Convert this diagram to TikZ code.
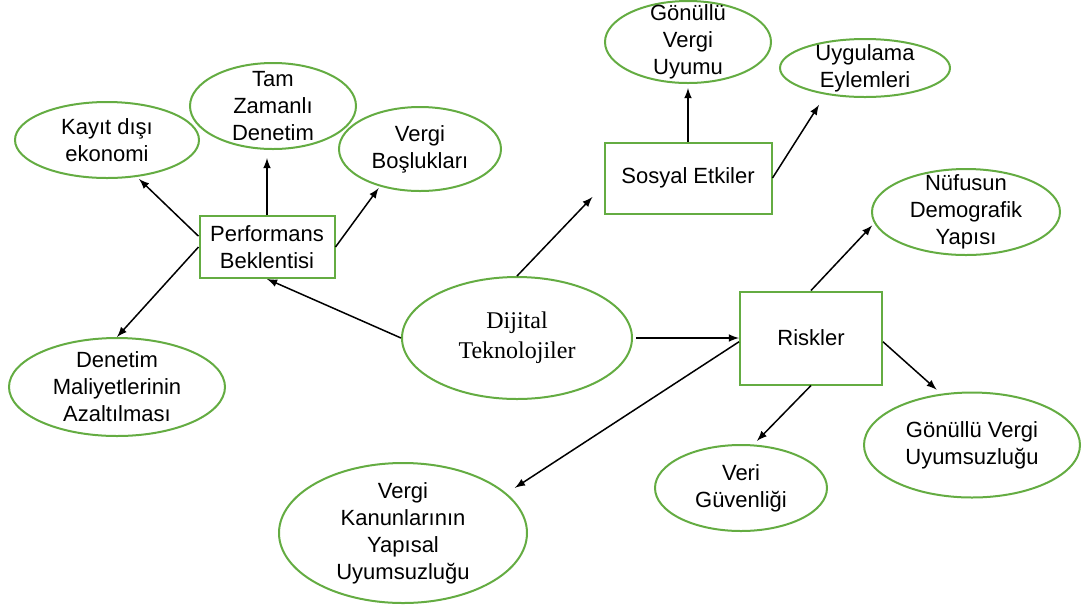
\documentclass[tikz,border=0pt]{standalone}
\usepackage{fontspec}
\setmainfont{Liberation Sans}
\newfontfamily\timesfont{Liberation Serif}
\usetikzlibrary{shapes.geometric}
\definecolor{ovalgreen}{RGB}{100,172,66}

\begin{document}
\begin{tikzpicture}[x=0.5pt,y=-0.5pt]
		\tikzstyle{oval}=[ellipse,draw=ovalgreen,line width=1pt,inner sep=0pt]
		\tikzstyle{box}=[rectangle,draw=ovalgreen,line width=1pt,inner sep=0pt,align=center,font=\fontsize{11}{13.5}\selectfont]
		\tikzstyle{txt}=[align=center,inner sep=0pt,font=\fontsize{11}{13.5}\selectfont]
		\tikzstyle{arrow}=[-latex,line width=0.75pt]
		\useasboundingbox (0,0) rectangle (1083,607);
		% center
		\node[oval,minimum width=115pt,minimum height=61pt,label={[txt,font=\timesfont\fontsize{12}{15}\selectfont]center:Dijital\\Teknolojiler}] (d_0) at (517,338) {};
		% performans
		\node[box,minimum width=67.5pt,minimum height=31pt] (p_0) at (267,247) {Performans\\Beklentisi};
		\node[oval,minimum width=92pt,minimum height=38pt,label={[txt]center:Kayıt dışı\\ekonomi}] (p_1) at (107,140) {};
		\node[oval,minimum width=83pt,minimum height=43pt,label={[txt]center:Tam\\Zamanlı\\Denetim}] (p_2) at (273,106) {};
		\node[oval,minimum width=81pt,minimum height=42pt,label={[txt]center:Vergi\\Boşlukları}] (p_3) at (420,149) {};
		\node[oval,minimum width=108pt,minimum height=49pt,label={[txt]center:Denetim\\Maliyetlerinin\\Azaltılması}] (p_4) at (117,387) {};
		% sosyal
		\node[box,minimum width=83.5pt,minimum height=35.5pt] (s_0) at (688,178) {Sosyal Etkiler};
		\node[oval,minimum width=83pt,minimum height=41pt,label={[txt]center:Gönüllü\\Vergi\\Uyumu}] (s_1) at (688,42) {};
		\node[oval,minimum width=85pt,minimum height=29pt,label={[txt]center:Uygulama\\Eylemleri}] (s_2) at (865,68) {};
		% riskler
		\node[box,minimum width=71pt,minimum height=46.5pt] (r_0) at (811,338) {Riskler};
		\node[oval,minimum width=94pt,minimum height=43pt,label={[txt]center:Nüfusun\\Demografik\\Yapısı}] (r_1) at (966,212) {};
		\node[oval,minimum width=108pt,minimum height=52.5pt,label={[txt]center:Gönüllü Vergi\\Uyumsuzluğu}] (r_2) at (972,445) {};
		\node[oval,minimum width=86pt,minimum height=43pt,label={[txt]center:Veri\\Güvenliği}] (r_3) at (741,488) {};
		\node[oval,minimum width=124pt,minimum height=70pt,label={[txt]center:Vergi\\Kanunlarının\\Yapısal\\Uyumsuzluğu}] (r_4) at (403,533) {};
		% arrows
		\draw[arrow,shorten >=1.5pt] (p_0.171) -- (p_1.-51);
		\draw[arrow,shorten >=4pt] (p_0.north) -- (p_0.north |- p_2.south);
		\draw[arrow,shorten >=1pt] (p_0.east) -- (p_3.-137);
		\draw[arrow] (p_0.west) -- (p_4.north);
		\draw[arrow] (d_0.west) -- (p_0.south);
		\draw[arrow,shorten >=8pt] (d_0.north) -- (s_0.185);
		\draw[arrow,shorten <=1.5pt] (d_0.east) -- (r_0.west);
		\draw[arrow,shorten >=5pt] (r_0.-177) -- (r_4.21);
		\draw[arrow,shorten >=2pt] (s_0.north) -- (s_1.south);
		\draw[arrow,shorten >=6pt] (s_0.east) -- (s_2.214);
		\draw[arrow,shorten >=1.5pt] (r_0.north) -- (r_1.187);
		\draw[arrow,shorten >=3pt] (r_0.-3) -- (r_2.121);
		\draw[arrow,shorten >=2.5pt] (r_0.south) -- (r_3.74);
	\end{tikzpicture}
\end{document}
